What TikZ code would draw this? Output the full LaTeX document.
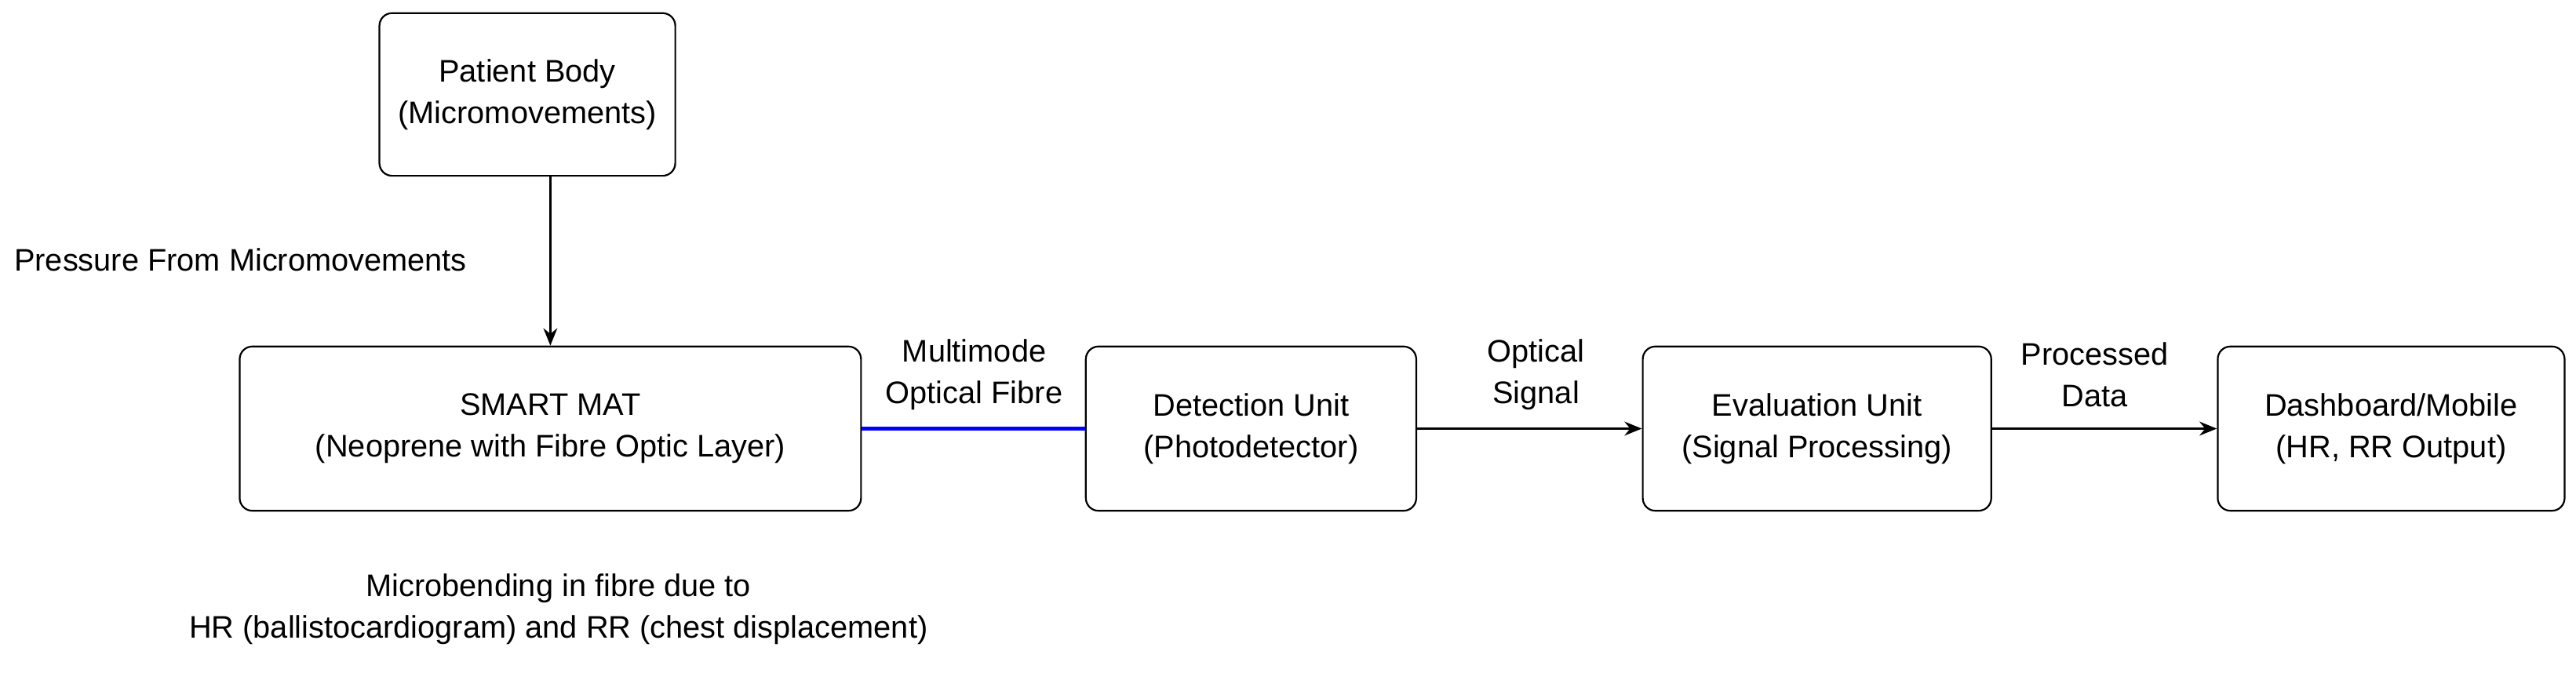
\documentclass[tikz,border=0pt]{standalone}
\usepackage{fontspec}
\setmainfont{Liberation Sans}
\usetikzlibrary{arrows.meta}
\begin{document}
\begin{tikzpicture}[x=0.01cm,y=-0.01cm,
 box/.style={draw,rounded corners=2.2pt,line width=0.3pt,align=center,inner sep=0pt},
 lbl/.style={align=center,inner sep=0pt},
 arr/.style={-{Stealth[length=3pt,width=2.4pt]},line width=0.45pt},
 font=\fontsize{5.4}{7.2}\selectfont]
\useasboundingbox (0,0) rectangle (1568,414);
\node[box,minimum width=1.8cm,minimum height=0.99cm] (pb) at (321,57.5) {Patient Body\\(Micromovements)};
\node[box,minimum width=3.78cm,minimum height=1cm] (sm) at (335,261) {SMART MAT\\(Neoprene with Fibre Optic Layer)};
\node[box,minimum width=2.01cm,minimum height=1cm] (du) at (761.5,261) {Detection Unit\\(Photodetector)};
\node[box,minimum width=2.12cm,minimum height=1cm] (eu) at (1106,261) {Evaluation Unit\\(Signal Processing)};
\node[box,minimum width=2.11cm,minimum height=1cm] (db) at (1455.5,261) {Dashboard/Mobile\\(HR, RR Output)};
\coordinate (pa) at (pb.south -| 335,0);
\draw[arr] (pa) -- (sm.north -| pa);
\node[lbl,anchor=west] (pl) at (8,158) {Pressure From Micromovements};
\draw[blue,line width=0.6pt] (sm.east) -- (du.west);
\node[lbl] (mo) at (593,228) {Multimode\\Optical Fibre};
\draw[arr] (du.east) -- (eu.west);
\node[lbl] (os) at (935,228) {Optical\\Signal};
\draw[arr] (eu.east) -- (db.west);
\node[lbl] (pd) at (1275,228) {Processed\\Data};
\node[lbl] (mb) at (340,371) {Microbending in fibre due to\\HR (ballistocardiogram) and RR (chest displacement)};
\end{tikzpicture}
\end{document}
